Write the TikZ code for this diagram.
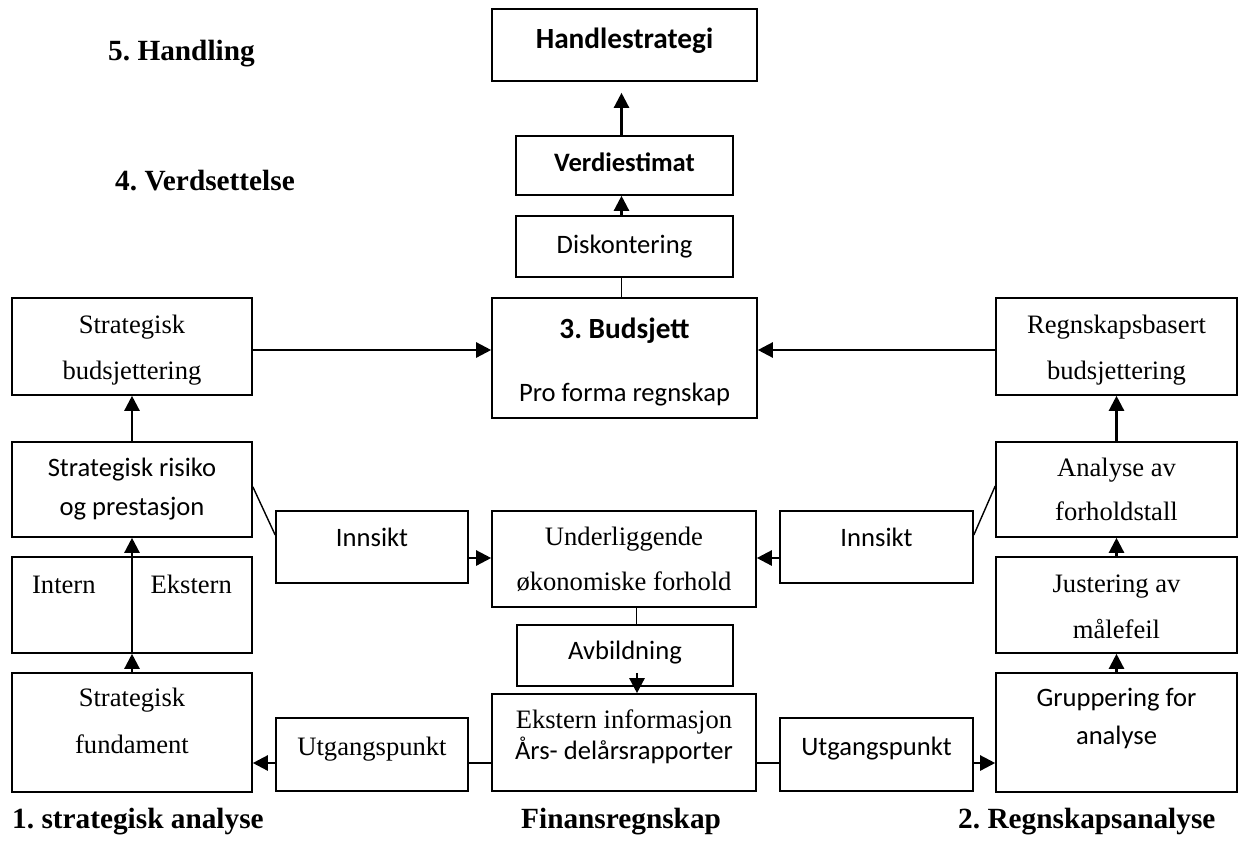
\documentclass[tikz,border=0pt]{standalone}
\usepackage{fontspec}
\setmainfont{Liberation Serif}
\newfontfamily\calfont{Carlito}
\usetikzlibrary{arrows.meta}

\tikzset{
  box/.style={draw, line width=1.6pt, rectangle, inner sep=0pt, align=center},
  serif/.style={font=\frenchspacing\fontsize{26.6}{#1}\selectfont},
  sans/.style={font=\frenchspacing\calfont\fontsize{26.6}{#1}\selectfont},
  tup/.style={text height=0pt, text depth=#1},
  tdn/.style={text height=#1, text depth=0pt},
  arr/.style={line width=2.4pt, -{Triangle[length=15pt,width=15pt]}},
  link/.style={line width=1.4pt},
  joint/.style={line width=2.2pt},
  head/.style={font=\frenchspacing\bfseries\fontsize{29.3}{34}\selectfont, anchor=base west, inner sep=0pt},
}

\begin{document}
\begin{tikzpicture}[x=1pt, y=-1pt]
  \useasboundingbox (0,0) rectangle (1239,855);

  % stage headings
  \node[head] (h5) at (108,60) {5. Handling};
  \node[head] (h4) at (115,190.7) {4. Verdsettelse};
  \node[head] (h1) at (12,828) {1. strategisk analyse};
  \node[head] (hf) at (521,828) {Finansregnskap};
  \node[head] (h2) at (958,828) {2. Regnskapsanalyse};

  % centre column (text height/depth place the last baseline inside each box)
  \node[box, sans=34, tdn=6.6pt, minimum width=265pt, minimum height=72pt] (hs) at (624.5,45)
    {\bfseries\fontsize{29.3}{34}\selectfont Handlestrategi};
  \node[box, sans=32, tdn=12.4pt, minimum width=217pt, minimum height=59pt] (ve) at (624.5,165.5)
    {\bfseries Verdiestimat};
  \node[box, sans=32, tdn=13.6pt, minimum width=217pt, minimum height=61pt] (di) at (624.5,246.5)
    {Diskontering};
  \node[box, sans=63.4, tdn=87.4pt, minimum width=265pt, minimum height=120pt] (bu) at (624.5,358)
    {{\bfseries\fontsize{29.3}{34}\selectfont 3. Budsjett}\\Pro forma regnskap};
  \node[box, serif=45, tdn=62pt, minimum width=264pt, minimum height=96pt] (ul) at (624,559)
    {Underliggende\\økonomiske forhold};
  \node[box, sans=32, tdn=7.6pt, minimum width=216pt, minimum height=61pt] (av) at (625,655.5)
    {Avbildning};
  \node[box, serif=31, tdn=33.6pt, minimum width=264pt, minimum height=97pt] (ek) at (624,742.5)
    {Ekstern informasjon\\{\calfont Års- delårsrapporter}};

  % strategic column
  \node[box, serif=45.7, tdn=65pt, minimum width=240pt, minimum height=97pt] (sb) at (132,346.5)
    {Strategisk\\budsjettering};
  \node[box, sans=38.3, tdn=51pt, minimum width=240pt, minimum height=95pt] (sr) at (132,489.5)
    {Strategisk risiko\\og prestasjon};
  \node[box, serif=32, tup=23.4pt, minimum width=240pt, minimum height=96pt] (ie) at (132,605)
    {Intern\hspace{55pt}Ekstern};
  \node[box, serif=46.6, tdn=41.6pt, minimum width=240pt, minimum height=119pt] (sf) at (132,732.5)
    {Strategisk\\fundament};
  \node[box, sans=32, tup=0.6pt, minimum width=192pt, minimum height=72pt] (inl) at (372,547)
    {Innsikt};
  \node[box, serif=32, tdn=1pt, minimum width=192pt, minimum height=73pt] (utl) at (372,754.5)
    {Utgangspunkt};

  % accounting column
  \node[box, serif=45.7, tdn=65pt, minimum width=241pt, minimum height=97pt] (rb) at (1116.5,346.5)
    {Regnskapsbasert\\budsjettering};
  \node[box, serif=44.7, tdn=62.4pt, minimum width=241pt, minimum height=95pt] (an) at (1116.5,489.5)
    {Analyse av\\forholdstall};
  \node[box, serif=45.6, tdn=66.6pt, minimum width=241pt, minimum height=96pt] (ju) at (1116.5,605)
    {Justering av\\målefeil};
  \node[box, sans=37.6, tdn=23.6pt, minimum width=241pt, minimum height=119pt] (gr) at (1116.5,732.5)
    {Gruppering for\\analyse};
  \node[box, sans=32, tup=0.6pt, minimum width=193pt, minimum height=72pt] (inr) at (876.5,547)
    {Innsikt};
  \node[box, sans=32, tdn=1pt, minimum width=193pt, minimum height=73pt] (utr) at (876.5,754.5)
    {Utgangspunkt};

  % valuation chain
  \draw[link] ([xshift=-3pt]bu.north) -- ([xshift=-3pt]di.south);
  \draw[arr] ([xshift=-3pt]di.north) -- ([xshift=-3pt]ve.south);
  \draw[arr, shorten >=11pt] ([xshift=-3pt]ve.north) -- ([xshift=-3pt]hs.south);

  % budgeting inputs
  \coordinate (sbo) at ([yshift=-3.5pt]sb.east);
  \coordinate (rbo) at ([yshift=-3.5pt]rb.west);
  \draw[arr] (sbo) -- (sbo -| bu.west);
  \draw[arr] (rbo) -- (rbo -| bu.east);

  % strategic analysis chain
  \draw[arr] (sf.north) -- (ie.south);
  \draw[arr] (ie.south) -- (sr.south);
  \draw[arr] (sr.north) -- (sb.south);

  % accounting analysis chain
  \draw[arr] (gr.north) -- (ju.south);
  \draw[arr] (ju.north) -- (an.south);
  \draw[arr] (an.north) -- (rb.south);

  % insight links
  \draw[link] ([yshift=2.8pt]sr.east) -- ([yshift=12pt]inl.west);
  \draw[link] ([yshift=3.5pt]an.west) -- ([yshift=12pt]inr.east);
  \coordinate (ilo) at ([yshift=-11pt]inl.east);
  \coordinate (iro) at ([yshift=-11pt]inr.west);
  \draw[arr] (ilo) -- (ilo -| ul.west);
  \draw[arr] (iro) -- (iro -| ul.east);

  % mapping to external information
  \coordinate (ulo) at ([xshift=12.5pt]ul.south);
  \draw[link] (ulo) -- (ulo |- av.north);
  \coordinate (avo) at ([xshift=12pt, yshift=14pt]av.south);
  \draw[arr] (avo) -- (avo |- ek.north);

  % starting points
  \coordinate (ekl) at ([yshift=-20.5pt]ek.west);
  \coordinate (ekr) at ([yshift=-20.5pt]ek.east);
  \draw[joint] (ekl) -- (ekl -| utl.east);
  \draw[arr] (ekl -| utl.west) -- (ekl -| sf.east);
  \draw[joint] (ekr) -- (ekr -| utr.west);
  \draw[arr] (ekr -| utr.east) -- (ekr -| gr.west);
\end{tikzpicture}
\end{document}
